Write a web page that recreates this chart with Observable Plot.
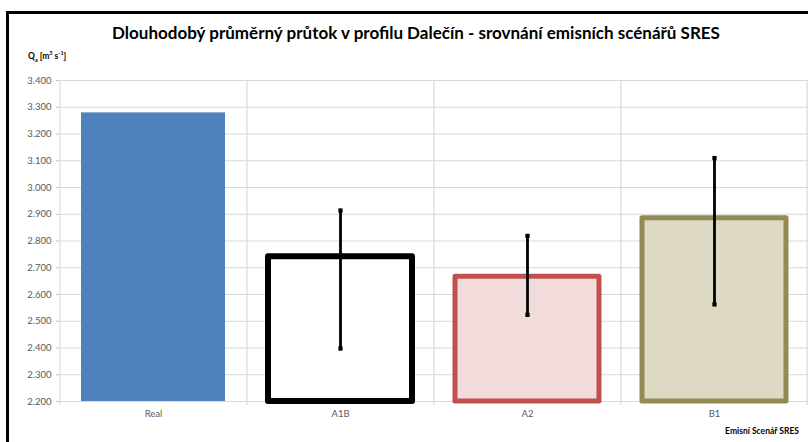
<!DOCTYPE html>
<html>
<head>
<meta charset="utf-8">
<script src="https://cdn.jsdelivr.net/npm/d3@7"></script>
<script src="https://cdn.jsdelivr.net/npm/@observablehq/plot@0.6"></script>
<style>
  html, body { margin: 0; padding: 0; background: #fff; }
  #wrap { position: relative; width: 808px; height: 442px; overflow: hidden; font-family: Lato, "DejaVu Sans", sans-serif; }
  #frame { position: absolute; left: 6px; top: 11px; width: 900px; height: 600px; border: 3px solid #000; box-sizing: border-box; }
  #chart { position: absolute; left: 0; top: 0; }
  #title { position: absolute; left: 0; width: 832px; top: 22px; text-align: center; font-weight: bold; font-size: 17px; color: #000; white-space: nowrap; }
  #ylab { position: absolute; left: 28px; top: 50px; font-weight: bold; font-size: 8.5px; color: #000; white-space: nowrap; }
  #ylab sub { font-size: 5.5px; }
  #ylab sup { font-size: 5.5px; }
  #xlab { position: absolute; right: 9px; top: 426px; font-weight: bold; font-size: 8.5px; color: #000; white-space: nowrap; }
</style>
</head>
<body>
<div id="wrap">
  <div id="frame"></div>
  <div id="chart"></div>
  <div id="title">Dlouhodobý průměrný průtok v profilu Dalečín - srovnání emisních scénářů SRES</div>
  <div id="ylab">Q<sub>a</sub> [m<sup>3</sup> s<sup>-1</sup>]</div>
  <div id="xlab">Emisní Scenář SRES</div>
</div>
<script>
const categories = ["Real", "A1B", "A2", "B1"];
const values = [3.279, 2.741, 2.666, 2.885];
const errHigh = [null, 2.914, 2.819, 3.110];
const errLow = [null, 2.398, 2.524, 2.563];
const yTicks = [2.2, 2.3, 2.4, 2.5, 2.6, 2.7, 2.8, 2.9, 3.0, 3.1, 3.2, 3.3, 3.4];
const yMin = 2.2, yMax = 3.4;

const fillColors = ["#4f81bd", "#ffffff", "#f2dcdb", "#ddd9c3"];
const strokeColors = ["none", "#000000", "#c0504d", "#948a54"];

const data = categories.map((c, i) => ({cat: c, value: values[i], hi: errHigh[i], lo: errLow[i]}));
const errData = data.filter(d => d.hi != null);
const caps = errData.flatMap(d => [{cat: d.cat, y: d.hi}, {cat: d.cat, y: d.lo}]);

const width = 808, mL = 59, mR = 0;
const pInner = 0.23, pOuter = 0.115;
const step = (width - mL - mR) / (categories.length - pInner + 2 * pOuter);

const chart = Plot.plot({
  width: width,
  height: 442,
  marginTop: 80,
  marginBottom: 41,
  marginLeft: mL,
  marginRight: mR,
  style: {background: "transparent", fontFamily: "Lato, sans-serif", fontSize: "9.5px", color: "#595959", overflow: "visible"},
  x: {domain: categories, paddingInner: pInner, paddingOuter: pOuter, label: null},
  y: {domain: [yMin, yMax], label: null},
  marks: [
    Plot.gridY(yTicks, {stroke: "#d9d9d9", strokeOpacity: 1, strokeWidth: 1.2}),
    Plot.ruleX(categories, {x: d => d, dx: -step / 2, stroke: "#d9d9d9", strokeWidth: 1.2, insetBottom: -4}),
    Plot.ruleX([categories[categories.length - 1]], {x: d => d, dx: step / 2 - 1, stroke: "#d9d9d9", strokeWidth: 1.2, insetBottom: -4}),
    Plot.barY(data.filter(d => d.cat === "Real"), {x: "cat", y1: () => yMin, y2: "value", fill: fillColors[0]}),
    ...[1, 2, 3].map(i => Plot.barY([data[i]], {
      x: "cat", y1: () => yMin, y2: "value",
      fill: fillColors[i], stroke: strokeColors[i],
      strokeWidth: i === 1 ? 6 : 5, strokeLinejoin: "round"
    })),
    Plot.ruleX(errData, {x: "cat", y1: "lo", y2: "hi", stroke: "#000", strokeWidth: 2.8}),
    Plot.dot(caps, {x: "cat", y: "y", symbol: "square", r: 2.4, fill: "#000"}),
    Plot.axisY(yTicks, {tickFormat: d3.format(".3f"), tickSize: 3, tickPadding: 5, stroke: "#bfbfbf", fill: "#595959"}),
    Plot.axisX({tickSize: 0, tickPadding: 9, fill: "#595959"})
  ]
});
document.getElementById("chart").appendChild(chart);
</script>
</body>
</html>
